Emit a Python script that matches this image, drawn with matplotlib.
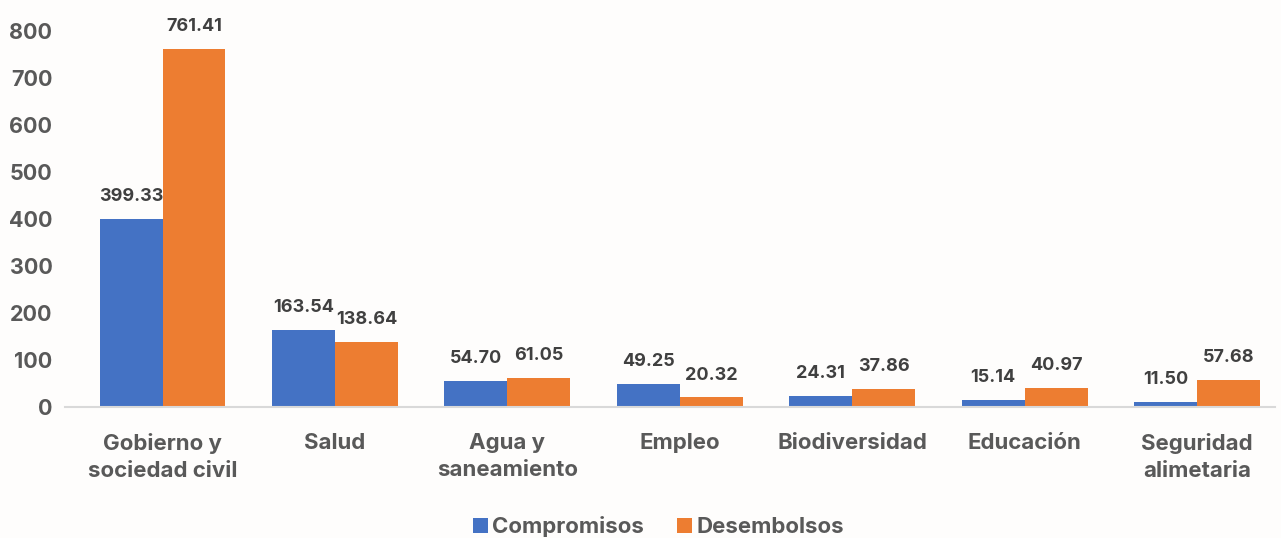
import numpy as np
import matplotlib.pyplot as plt

# Datos
categorias = ["Gobierno y\nsociedad civil", "Salud", "Agua y\nsaneamiento", "Empleo",
              "Biodiversidad", "Educación", "Seguridad\nalimetaria"]
compromisos = [399.33, 163.54, 54.70, 49.25, 24.31, 15.14, 11.50]
desembolsos = [761.41, 138.64, 61.05, 20.32, 37.86, 40.97, 57.68]
y_ticks = [0, 100, 200, 300, 400, 500, 600, 700, 800]

azul = "#4472C4"
naranja = "#ED7D31"
gris = "#595959"

plt.rcParams['font.family'] = ['Inter', 'DejaVu Sans']

fig = plt.figure(figsize=(12.81, 5.38), dpi=100, facecolor="#FEFDFC")
ax = fig.add_axes([0.0507, 0.2435, 0.9446, 0.699])
ax.set_facecolor("#FEFDFC")

x = np.arange(len(categorias))
w = 0.365
b1 = ax.bar(x - w / 2, compromisos, w, color=azul, label="Compromisos")
b2 = ax.bar(x + w / 2, desembolsos, w, color=naranja, label="Desembolsos")

for bars, vals in [(b1, compromisos), (b2, desembolsos)]:
    for rect, v in zip(bars, vals):
        ax.annotate(f"{v:.2f}", (rect.get_x() + rect.get_width() / 2, rect.get_height()),
                    xytext=(0, 10), textcoords="offset points", ha="center", va="bottom",
                    fontsize=13, fontweight="bold", color="#404040")

ax.set_xlim(-0.566, 6.452)
ax.set_ylim(0, 800)
ax.set_yticks(y_ticks)
ax.set_yticklabels([str(t) for t in y_ticks], fontsize=15.5, fontweight="bold", color=gris)
ax.set_xticks(x)
ax.set_xticklabels(categorias, fontsize=16, fontweight="bold", color=gris, linespacing=1.4)
ax.tick_params(axis="both", length=0)
ax.tick_params(axis="y", pad=9)
ax.tick_params(axis="x", pad=19)

for s in ["top", "right", "left"]:
    ax.spines[s].set_visible(False)
ax.spines["bottom"].set_color("#D9D9D9")
ax.spines["bottom"].set_linewidth(1.5)

leg = fig.legend(handles=[b1, b2], loc="lower center", bbox_to_anchor=(0.514, -0.036), ncol=2,
                 frameon=False, fontsize=16, handlelength=0.65, handleheight=0.65,
                 handletextpad=0.2, columnspacing=1.5)
for t in leg.get_texts():
    t.set_color(gris)
    t.set_fontweight("bold")

fig.savefig("out.png", dpi=100, facecolor=fig.get_facecolor())
